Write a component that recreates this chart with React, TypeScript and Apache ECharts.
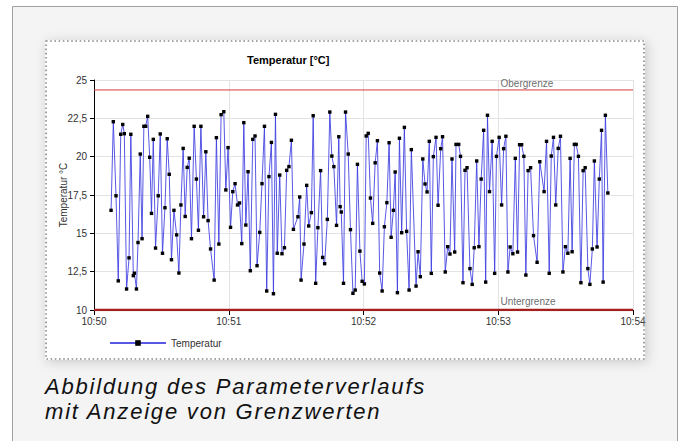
import React, { useEffect, useRef } from "react";
import * as echarts from "echarts";

const timeLabels = ["10:50", "10:51", "10:52", "10:53", "10:54"];
const seriesName = "Temperatur";
const chartTitle = "Temperatur [°C]";
const yAxisName = "Temperatur °C";
const upperLabel = "Obergrenze";
const lowerLabel = "Untergrenze";
const upperLimit = 24.35;
const lowerLimit = 10;
const captionLines = ["Abbildung des Parameterverlaufs", "mit Anzeige von Grenzwerten"];

// seconds after 10:50:00
const seconds = [
  7.6, 8.6, 9.8, 10.8, 11.9, 12.8, 13.5, 14.5, 15.6, 16.4, 17.5, 18.0, 18.9, 19.6, 20.6, 21.4, 22.2, 23.0, 23.9, 24.8,
  25.6, 26.4, 27.4, 28.6, 29.5, 30.5, 31.6, 32.6, 33.5, 34.5, 35.6, 36.8, 37.8, 38.7, 39.7, 40.6, 41.5, 42.4, 43.4, 44.6,
  45.6, 46.5, 47.6, 48.8, 49.8, 50.8, 51.9, 53.5, 54.5, 55.6, 56.6, 57.8, 58.7, 59.7, 60.8, 61.8, 62.8, 63.9, 64.8, 65.8,
  66.7, 67.6, 68.6, 69.6, 70.7, 71.7, 72.6, 73.8, 74.8, 75.9, 76.9, 77.9, 79.0, 79.9, 80.8, 81.6, 82.7, 83.7, 84.8, 85.8,
  86.8, 87.9, 88.8, 90.8, 91.6, 92.2, 93.5, 94.7, 95.6, 96.8, 97.6, 98.7, 99.7, 100.9, 101.8, 102.7, 103.9, 105.0, 105.9, 106.8,
  108.0, 109.0, 109.6, 110.1, 111.1, 112.0, 113.2, 114.2, 115.3, 116.3, 117.3, 118.4, 119.4, 120.4, 121.2, 122.1, 123.1, 124.1, 125.2, 126.2,
  127.2, 128.3, 129.3, 130.4, 131.4, 132.3, 133.3, 134.1, 135.1, 136.0, 137.0, 138.2, 139.2, 140.3, 141.3, 143.4, 144.3, 145.3, 146.4, 147.4,
  148.3, 149.3, 150.2, 151.1, 152.3, 153.2, 154.4, 155.2, 156.4, 157.5, 158.5, 159.4, 160.6, 161.2, 162.4, 163.2, 164.3, 165.2, 166.1, 167.4,
  168.4, 169.3, 170.4, 171.4, 172.4, 173.5, 174.4, 175.2, 176.1, 177.3, 178.4, 179.2, 180.4, 181.5, 182.4, 183.4, 184.3, 185.3, 186.5, 187.6,
  188.6, 189.5, 190.4, 191.4, 192.3, 193.3, 194.4, 195.7, 197.3, 198.5, 200.4, 201.5, 202.7, 203.6, 204.6, 205.6, 206.7, 207.7, 208.8, 209.9,
  211.0, 212.0, 212.9, 213.9, 214.7, 215.7, 216.8, 217.8, 218.7, 219.9, 220.8, 221.9, 222.8, 224.0, 225.0, 226.0, 226.7, 227.7, 228.8,
];

const temps = [
  16.5, 22.28, 17.45, 11.9, 21.46, 22.1, 21.5, 11.37, 13.4, 21.46, 12.24, 12.4, 11.37, 14.4, 20.17, 14.65, 21.98, 21.98, 22.63, 19.96,
  16.3, 21.13, 14.04, 17.45, 21.48, 13.7, 16.67, 21.17, 18.85, 13.28, 16.5, 14.9, 12.41, 16.85, 20.54, 16.1, 19.3, 19.9, 14.65, 21.98,
  18.54, 15.2, 21.98, 16.08, 20.32, 15.83, 13.98, 11.95, 21.24, 14.3, 22.74, 22.93, 17.83, 20.59, 15.39, 17.72, 18.24, 16.85, 16.98, 14.33,
  22.22, 15.54, 19.02, 12.56, 21.13, 21.35, 12.89, 15.06, 18.24, 21.98, 11.24, 18.7, 20.93, 11.06, 22.76, 13.7, 18.8, 13.67, 14.06, 19.11,
  19.35, 21.07, 15.26, 16.08, 17.37, 11.95, 14.3, 18.13, 15.48, 16.35, 22.67, 11.74, 15.37, 19.09, 13.43, 13.02, 15.91, 22.91, 20.04, 19.35,
  15.52, 21.3, 16.74, 16.39, 11.74, 22.91, 20.17, 15.24, 11.09, 11.3, 19.5, 13.84, 11.87, 11.7, 21.35, 21.52, 17.3, 15.65, 19.6, 21.04,
  12.41, 11.24, 15.43, 17.0, 20.91, 14.74, 16.5, 19.0, 11.13, 21.2, 15.04, 21.91, 15.13, 11.3, 20.46, 11.56, 13.8, 12.17, 19.85, 18.22,
  17.7, 21.0, 12.39, 20.0, 21.26, 16.83, 20.52, 21.3, 12.48, 14.13, 13.65, 19.85, 13.78, 20.8, 20.8, 20.02, 11.78, 19.11, 19.28, 12.7,
  11.67, 14.06, 19.72, 14.13, 18.54, 21.72, 11.82, 22.7, 17.72, 21.0, 12.39, 20.02, 21.26, 16.85, 20.52, 21.33, 12.48, 14.11, 13.67, 19.89,
  13.78, 20.78, 20.78, 20.02, 12.28, 19.09, 19.28, 14.85, 13.11, 19.67, 17.72, 21.0, 12.39, 20.04, 21.26, 16.85, 20.54, 21.33, 12.48, 14.13,
  13.7, 19.89, 13.8, 20.8, 20.8, 20.02, 11.78, 19.09, 19.28, 12.7, 11.67, 13.98, 19.72, 14.11, 18.54, 21.72, 11.82, 22.7, 17.63,
];

const labelPositionSeconds = 181;

const FONT = "'Liberation Sans', Arial, sans-serif";

export default function App() {
  const ref = useRef<HTMLDivElement>(null);

  useEffect(() => {
    if (!ref.current) return;
    const chart = echarts.init(ref.current, null, { renderer: "svg" });
    const data = seconds.map((s, i) => [s, temps[i]]);

    const option: any = {
      animation: false,
      backgroundColor: "#ffffff",
      title: {
        text: chartTitle,
        left: 242,
        top: 49,
        textStyle: { fontFamily: FONT, fontSize: 11, fontWeight: "bold", color: "#000" },
      },
      legend: {
        data: [seriesName],
        left: 104,
        top: 333,
        itemWidth: 56,
        itemHeight: 7,
        itemGap: 6,
        textStyle: { fontFamily: FONT, fontSize: 10, color: "#333" },
      },
      grid: { left: 94, right: 51, top: 80, bottom: 131, containLabel: false },
      xAxis: {
        type: "value",
        min: 0,
        max: 240,
        interval: 60,
        axisLine: { show: true, lineStyle: { color: "#000", width: 1 } },
        axisTick: { show: true, length: 5, lineStyle: { color: "#000" } },
        axisLabel: {
          fontFamily: FONT,
          fontSize: 10,
          color: "#333",
          margin: 6,
          formatter: (v: number) => timeLabels[Math.round(v / 60)] ?? "",
        },
        splitLine: { show: true, lineStyle: { color: "#e3e3e3", width: 1 } },
      },
      yAxis: {
        type: "value",
        min: 10,
        max: 25,
        interval: 2.5,
        name: yAxisName,
        nameLocation: "middle",
        nameGap: 26,
        nameMoveOverlap: false,
        nameTextStyle: { fontFamily: FONT, fontSize: 10, color: "#333" },
        axisLine: { show: true, lineStyle: { color: "#000", width: 1 } },
        axisTick: { show: true, length: 4, lineStyle: { color: "#000" } },
        axisLabel: {
          fontFamily: FONT,
          fontSize: 10,
          color: "#333",
          margin: 7,
          formatter: (v: number) => String(v).replace(".", ","),
        },
        splitLine: { show: true, lineStyle: { color: "#e3e3e3", width: 1 } },
      },
      series: [
        {
          name: "upper",
          type: "line",
          data: [[0, upperLimit], [240, upperLimit]],
          symbol: "none",
          lineStyle: { color: "#d93a3a", width: 1 },
          silent: true,
          z: 1,
        },
        {
          name: "lower",
          type: "line",
          data: [[0, lowerLimit], [240, lowerLimit]],
          symbol: "none",
          lineStyle: { color: "#a3201e", width: 2.5 },
          silent: true,
          z: 5,
        },
        {
          name: "labels",
          type: "scatter",
          symbolSize: 0,
          silent: true,
          data: [
            {
              value: [labelPositionSeconds, upperLimit],
              label: { show: true, formatter: upperLabel, position: [0, -11] },
            },
            {
              value: [labelPositionSeconds, lowerLimit],
              label: { show: true, formatter: lowerLabel, position: [0, -14] },
            },
          ],
          label: { fontFamily: FONT, fontSize: 10, color: "#444" },
        },
        {
          name: seriesName,
          type: "line",
          data,
          symbol: "rect",
          symbolSize: 3.4,
          showSymbol: true,
          showAllSymbol: true,
          lineStyle: { color: "#3b3be0", width: 1, opacity: 0.85 },
          itemStyle: { color: "#000", borderWidth: 0 },
          z: 3,
        },
      ],
      graphic: [
        {
          type: "rect",
          z: -100,
          silent: true,
          shape: { x: 12.5, y: 6.5, width: 665, height: 445 },
          style: { fill: "#f4f4f4", stroke: "#a0a0a0", lineWidth: 1 },
        },
        {
          type: "rect",
          z: -90,
          silent: true,
          shape: { x: 45, y: 40, width: 600, height: 320 },
          style: { fill: "#ffffff", shadowBlur: 12, shadowColor: "rgba(0,0,0,0.18)", shadowOffsetX: 2, shadowOffsetY: 2 },
        },
        {
          type: "rect",
          z: 50,
          silent: true,
          shape: { x: 46, y: 41, width: 598, height: 318 },
          style: { fill: "none", stroke: "#8a8a8a", lineWidth: 1.6, lineDash: [1.6, 2.6] },
        },
      ],
    };
    chart.setOption(option);
    return () => chart.dispose();
  }, []);

  return (
    <div style={{ position: "fixed", left: 0, top: 0, width: 684, height: 441, background: "#fff", overflow: "hidden" }}>
      <div ref={ref} style={{ position: "absolute", left: 0, top: 0, width: 684, height: 441 }} />
      <div
        style={{
          position: "absolute",
          left: 45,
          top: 375,
          fontFamily: "'Liberation Sans', Arial, sans-serif",
          fontStyle: "italic",
          fontSize: 22,
          lineHeight: "24.8px",
          letterSpacing: "1.8px",
          color: "#111",
          whiteSpace: "nowrap",
        }}
      >
        <div>{captionLines[0]}</div>
        <div>{captionLines[1]}</div>
      </div>
    </div>
  );
}
